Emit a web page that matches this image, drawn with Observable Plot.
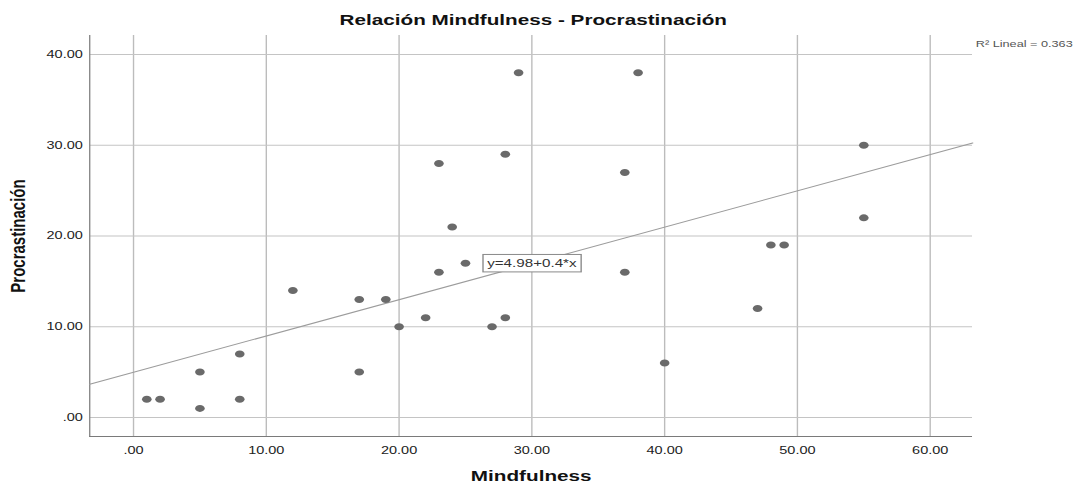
<!DOCTYPE html>
<html>
<head>
<meta charset="utf-8">
<script src="https://cdn.jsdelivr.net/npm/d3@7"></script>
<script src="https://cdn.jsdelivr.net/npm/@observablehq/plot@0.6"></script>
<style>
  html, body { margin: 0; padding: 0; background: #fff; }
  #chart { width: 1082px; height: 485px; overflow: hidden; }
</style>
</head>
<body>
<div id="chart"></div>
<script>
// ---- Data ----
const mindfulness     = [1, 2, 5, 5, 8, 8, 12, 17, 17, 19, 20, 22, 23, 23, 24, 25, 27, 28, 28, 29, 37, 37, 38, 40, 47, 48, 49, 55, 55];
const procrastinacion = [2, 2, 5, 1, 7, 2, 14, 13, 5, 13, 10, 11, 28, 16, 21, 17, 10, 29, 11, 38, 27, 16, 38, 6, 12, 19, 19, 30, 22];
const xTicks = [0, 10, 20, 30, 40, 50, 60];
const yTicks = [0, 10, 20, 30, 40];
const xDomain = [-3.3, 63.2];
const yDomain = [-2.1, 42.1];
const intercept = 4.98;
const slope = 0.4;
const eqAt = 30;
const eqText = "y=4.98+0.4*x";
const r2Text = "R\u00B2 Lineal = 0.363";
const titleText = "Relación Mindfulness - Procrastinación";
const xLabel = "Mindfulness";
const yLabel = "Procrastinación";

// ---- Build ----
const points = mindfulness.map((x, i) => ({x, y: procrastinacion[i]}));
const fitLine = xDomain.map(x => ({x, y: intercept + slope * x}));
const eqPoint = [{x: eqAt, y: intercept + slope * eqAt, label: eqText}];

const fmt = v => v === 0 ? ".00" : v.toFixed(2);

const W = 784, H = 485;   // logical size; stretched horizontally to 1082 like the original SPSS export
const FONT = "'Liberation Sans', Arial, Helvetica, sans-serif";

const svg = Plot.plot({
  width: W,
  height: H,
  marginTop: 35,
  marginBottom: 49,
  marginLeft: 64.5,
  marginRight: 79.7,
  style: {fontFamily: FONT, fontSize: "10.5px", background: "#fff", color: "#222"},
  x: {domain: xDomain},
  y: {domain: yDomain},
  marks: [
    Plot.gridX({ticks: xTicks, stroke: "#bcbcbc", strokeOpacity: 1, strokeWidth: 1}),
    Plot.gridY({ticks: yTicks, stroke: "#c4c4c4", strokeOpacity: 1, strokeWidth: 1}),
    Plot.ruleX([xDomain[0]], {stroke: "#8a8a8a", strokeWidth: 1}),
    Plot.ruleY([yDomain[0]], {stroke: "#7a7a7a", strokeWidth: 1}),
    Plot.axisX({ticks: xTicks, tickSize: 0, tickPadding: 10, tickFormat: fmt, label: null, fill: "#222"}),
    Plot.axisY({ticks: yTicks, tickSize: 0, tickPadding: 5, tickFormat: fmt, label: null, fill: "#222"}),
    Plot.line(fitLine, {x: "x", y: "y", stroke: "#9c9c9c", strokeWidth: 1}),
    Plot.dot(points, {x: "x", y: "y", r: 3.5, fill: "#6a6a6a", stroke: "none"}),
    Plot.text(eqPoint, {x: "x", y: "y", text: "label", fontSize: 11, fill: "#333", textAnchor: "middle", lineAnchor: "middle"}),
    Plot.text([r2Text], {text: d => d, frameAnchor: "top-right", textAnchor: "start", lineAnchor: "middle", dx: 2.2, dy: 9, fontSize: 9.2, fill: "#555"}),
    Plot.text([titleText], {text: d => d, frameAnchor: "top", textAnchor: "middle", lineAnchor: "middle", dx: 1.5, dy: -15, fontSize: 15, fontWeight: "bold", fill: "#111"}),
    Plot.text([xLabel], {text: d => d, frameAnchor: "bottom", textAnchor: "middle", lineAnchor: "middle", dy: 40, fontSize: 15, fontWeight: "bold", fill: "#111"}),
    Plot.text([yLabel], {text: d => d, frameAnchor: "left", textAnchor: "middle", lineAnchor: "middle", rotate: -90, dx: -51.5, fontSize: 15, fontWeight: "bold", fill: "#111"})
  ]
});

svg.setAttribute("viewBox", `0 0 ${W} ${H}`);
svg.setAttribute("preserveAspectRatio", "none");
svg.setAttribute("width", 1082);
svg.setAttribute("height", H);
svg.style.maxWidth = "none";
svg.style.width = "1082px";
svg.style.height = H + "px";
svg.style.overflow = "visible";
document.getElementById("chart").appendChild(svg);

// White box with border behind the regression equation label
for (const t of svg.querySelectorAll("text")) {
  if (t.textContent === eqText) {
    const bb = t.getBBox();
    const rect = document.createElementNS("http://www.w3.org/2000/svg", "rect");
    rect.setAttribute("x", bb.x - 3);
    rect.setAttribute("y", bb.y - 2.5);
    rect.setAttribute("width", bb.width + 6);
    rect.setAttribute("height", bb.height + 5);
    rect.setAttribute("fill", "#fff");
    rect.setAttribute("stroke", "#8a8a8a");
    rect.setAttribute("stroke-width", "1");
    const tr = t.getAttribute("transform");
    if (tr) rect.setAttribute("transform", tr);
    t.parentNode.insertBefore(rect, t);
  }
}
</script>
</body>
</html>
